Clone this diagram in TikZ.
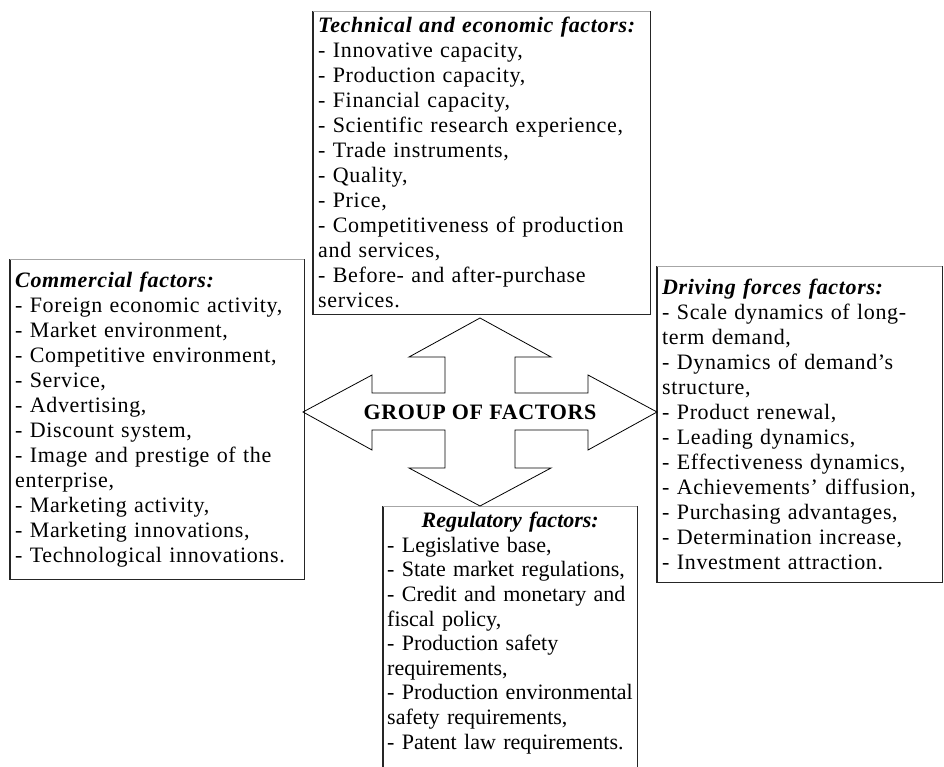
\documentclass[tikz,border=0pt]{standalone}
\usepackage{fontspec}
\setmainfont{Liberation Serif}[LetterSpace=3]
\tikzset{factbox/.style={draw=none, anchor=north west, align=left,
  inner xsep=5pt, inner ysep=6pt, font=\fontsize{22}{25}\selectfont},
  side/.style={line width=1.4pt, black!85},
  lid/.style={line width=0.8pt, black!35}}
\newcommand{\ftitle}[1]{\textbf{\textit{#1}}}

\begin{document}
\begin{tikzpicture}[x=1pt, y=-1pt]
  \useasboundingbox (0,0) rectangle (944,767);
  \coordinate (bot) at (0,767);
  % The four groups of factors
  \node[factbox, text width=327pt] (tech) at (313,11) {\ftitle{Technical and economic factors:}\\
    - Innovative capacity,\\
    - Production capacity,\\
    - Financial capacity,\\
    - Scientific research experience,\\
    - Trade instruments,\\
    - Quality,\\
    - Price,\\
    - Competitiveness of production\\
    and services,\\
    - Before- and after-purchase\\
    services.};
  \node[factbox, text width=284pt, minimum height=320pt] (comm) at (10,259) {\ftitle{Commercial factors:}\\
    - Foreign economic activity,\\
    - Market environment,\\
    - Competitive environment,\\
    - Service,\\
    - Advertising,\\
    - Discount system,\\
    - Image and prestige of the\\
    enterprise,\\
    - Marketing activity,\\
    - Marketing innovations,\\
    - Technological innovations.};
  \node[factbox, text width=275pt, minimum height=316pt] (drive) at (657,266) {\ftitle{Driving forces factors:}\\
    - Scale dynamics of long-\\
    term demand,\\
    - Dynamics of demand’s\\
    structure,\\
    - Product renewal,\\
    - Leading dynamics,\\
    - Effectiveness dynamics,\\
    - Achievements’ diffusion,\\
    - Purchasing advantages,\\
    - Determination increase,\\
    - Investment attraction.};
  \node[factbox, text width=246pt, inner xsep=4pt,
    font=\fontsize{22}{24.6}\selectfont\addfontfeature{LetterSpace=0}] (reg) at (383,506)
    {\makebox[246pt][c]{\ftitle{Regulatory factors:}}\\
    - Legislative base,\\
    - State market regulations,\\
    - Credit and monetary and\\
    fiscal policy,\\
    - Production safety\\
    requirements,\\
    - Production environmental\\
    safety requirements,\\
    - Patent law requirements.};
  % Box outlines (top edge is lighter)
  \draw[side] (tech.north west) -- (tech.south west) -- (tech.south east) -- (tech.north east);
  \draw[lid] (tech.north west) -- (tech.north east);
  \draw[side] (comm.north west) -- (comm.south west) -- (comm.south east) -- (comm.north east);
  \draw[lid] (comm.north west) -- (comm.north east);
  \draw[side] (drive.north west) -- (drive.south west) -- (drive.south east) -- (drive.north east);
  \draw[lid] (drive.north west) -- (drive.north east);
  \draw[side] (reg.north west |- bot) -- (reg.north west);
  \draw[side] (reg.north east |- bot) -- (reg.north east);
  \draw[lid] (reg.north west) -- (reg.north east);
  % Four-way arrow in the middle
  \draw[line width=0.8pt] (480,318) -- (551,357) -- (515,357) -- (515,393)
    -- (588,393) -- (588,375) -- (657,412) -- (588,450) -- (588,430)
    -- (515,430) -- (515,468) -- (551,468) -- (480,506) -- (409,468)
    -- (445,468) -- (445,430) -- (372,430) -- (372,450) -- (303,412)
    -- (372,375) -- (372,393) -- (445,393) -- (445,357) -- (409,357) -- cycle;
  \node[font=\fontsize{22}{25}\selectfont\bfseries] (grp) at (480,412) {GROUP OF FACTORS};
\end{tikzpicture}
\end{document}
